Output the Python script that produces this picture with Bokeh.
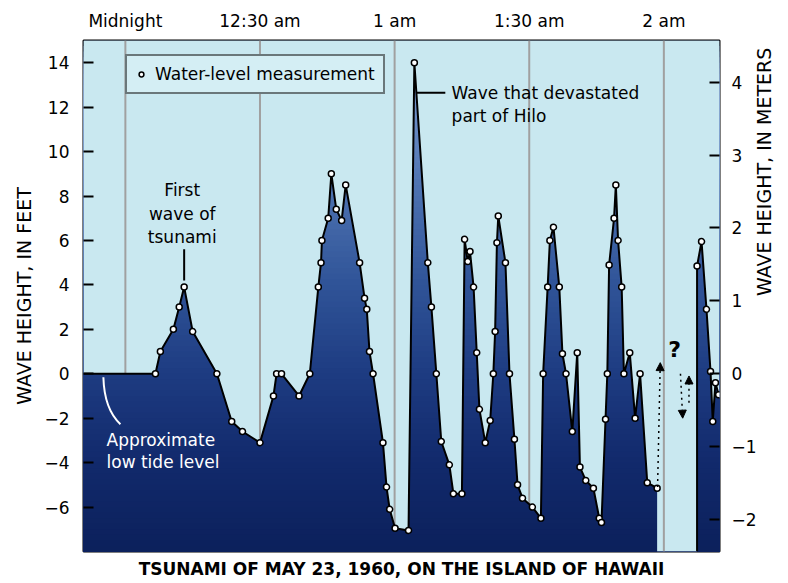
import numpy as np
from bokeh.plotting import figure
from bokeh.models import (Range1d, LinearAxis, FixedTicker, Label, Legend, LegendItem,
                          Arrow, NormalHead, Title)
from bokeh.embed import file_html
from bokeh.resources import INLINE

# ---------------- data (minutes after midnight, wave height in feet) ----------------
minutes_1 = [6.7, 7.8, 10.7, 12.0, 13.1, 15.0, 20.4, 23.7, 26.1, 30.0,
             33.0, 33.7, 34.8, 38.7, 41.1, 43.0, 43.6, 43.8, 45.2, 45.9,
             47.0, 48.2, 49.1, 52.2, 53.3, 53.8, 54.4, 55.2, 57.4, 58.2,
             58.9, 60.1, 63.1, 64.4, 67.4, 68.2, 69.3, 70.4, 72.2, 73.1,
             75.0, 75.6, 76.3, 76.8, 77.6, 78.3, 78.9, 80.2, 81.3, 82.0,
             82.4, 82.8, 83.1, 84.7, 85.6, 86.7, 87.4, 88.5, 90.7, 92.6,
             93.1, 94.1, 94.6, 95.4, 96.7, 97.4, 98.2, 99.6, 100.7, 101.3,
             102.6, 104.3, 105.6, 106.1, 107.0, 107.4, 107.8, 108.9, 109.3, 109.8,
             110.6, 111.1, 112.4, 113.6, 114.7, 116.3, 118.5]
feet_1 = [0, 1.0, 2.0, 3.0, 3.9, 1.9, 0, -2.15, -2.6, -3.1,
          -1.0, 0, 0, -1.0, 0, 3.9, 5.0, 6.0, 7.0, 9.0,
          7.4, 6.9, 8.5, 5.0, 3.4, 2.9, 1.0, 0, -3.1, -5.1,
          -6.1, -6.95, -7.05, 14.0, 5.0, 3.0, 0, -3.05, -4.1, -5.4,
          -5.4, 6.05, 5.05, 5.5, 3.9, 0.95, -1.6, -3.1, -2.1, 0,
          1.9, 5.9, 7.1, 5.0, 0, -2.95, -5.0, -5.6, -6.0, -6.5,
          0, 3.9, 6.0, 6.6, 3.9, 0.9, 0, -2.6, 0.95, -4.2,
          -4.8, -5.15, -6.5, -6.7, -2.05, 0, 4.9, 7.0, 8.5, 6.0,
          3.9, 0, 0.95, -2.0, 0, -4.9, -5.15]
minutes_2 = [127.4, 128.4, 129.5, 130.4, 130.9, 131.5, 132.2]
feet_2 = [4.85, 5.95, 2.9, 0.1, -2.15, -0.4, -0.95]

# uncertain (dotted) readings in the gap: x0, y0, x1, y1
gap_x0 = [118.6, 123.7, 125.6]
gap_y0 = [-5.1, 0.0, -1.3]
gap_x1 = [119.2, 124.2, 125.6]
gap_y1 = [0.5, -2.0, -0.1]

time_ticks = [0, 30, 60, 90, 120]
time_labels = ["Midnight", "12:30 am", "1 am", "1:30 am", "2 am"]
feet_ticks = [-6, -4, -2, 0, 2, 4, 6, 8, 10, 12, 14]
meter_ticks = [-2, -1, 0, 1, 2, 3, 4]
FT_TO_M = 0.3048

# ---------------- styling ----------------
FONT = "DejaVu Sans"
LIGHT = "#c9e8f0"
x_lo, x_hi = -9.33, 132.4
y_lo, y_hi = -8, 15

p = figure(width=788, height=583, output_backend="svg", toolbar_location=None,
           x_range=Range1d(x_lo, x_hi), y_range=Range1d(y_lo, y_hi),
           x_axis_location="above",
           min_border_left=83, min_border_right=67, min_border_top=40, min_border_bottom=30,
           background_fill_color=LIGHT, border_fill_color="white",
           outline_line_color="black", outline_line_width=2)
p.xgrid.visible = False
p.ygrid.visible = False

# gradient under the curve: nested bands (tallest first), later covered above the curve
grad_ft = [-8, -4, 0, 4, 8, 12, 15]
grad_rgb = np.array([(12, 33, 92), (18, 42, 108), (30, 60, 130), (48, 84, 152),
                     (75, 112, 175), (110, 145, 200), (135, 165, 215)], dtype=float)
edges = np.linspace(y_lo, y_hi, 93)
tops = edges[1:][::-1]
cols = []
for t in tops:
    m = t - 0.125
    r, g, b = (np.interp(m, grad_ft, grad_rgb[:, k]) for k in range(3))
    cols.append("#%02x%02x%02x" % (int(r), int(g), int(b)))
p.quad(left=x_lo, right=x_hi, bottom=y_lo, top=tops, fill_color=cols, line_color=None)

# light-blue region above the curve (including the gap without record)
bx = [x_lo, x_lo] + minutes_1 + [minutes_1[-1], minutes_2[0]] + minutes_2 + [x_hi, x_hi]
by = [y_hi, 0] + feet_1 + [y_lo, y_lo] + feet_2 + [feet_2[-1], y_hi]
p.patch(bx, by, fill_color=LIGHT, line_color=None)

# vertical grid lines, visible only above the curve
ix = [x_lo] + minutes_1 + [minutes_1[-1], minutes_2[0]] + minutes_2 + [x_hi]
iy = [0] + feet_1 + [y_lo, y_lo] + feet_2 + [feet_2[-1]]
grid_bottom = [float(np.interp(t, ix, iy)) for t in time_ticks]
p.segment(x0=time_ticks, y0=y_hi, x1=time_ticks, y1=grid_bottom,
          line_color="#a0a0a0", line_width=2)

# the record
p.line([x_lo] + minutes_1, [0] + feet_1, line_color="black", line_width=2)
p.line([minutes_2[0]] + minutes_2 + [x_hi], [y_lo] + feet_2 + [feet_2[-1]],
       line_color="black", line_width=2)
pts = p.scatter(minutes_1 + minutes_2, feet_1 + feet_2, size=6, fill_color="white",
                line_color="black", line_width=1.5)

for a, b, c, d in zip(gap_x0, gap_y0, gap_x1, gap_y1):
    p.add_layout(Arrow(x_start=a, y_start=b, x_end=c, y_end=d, line_dash="dotted",
                       line_width=1.5, line_color="black",
                       end=NormalHead(size=8, fill_color="black", line_color="black")))

# axes
ax = p.xaxis[0]
ax.ticker = FixedTicker(ticks=time_ticks)
ax.major_label_overrides = dict(zip(time_ticks, time_labels))
ax.major_tick_line_color = None
ax.minor_tick_line_color = None
ax.axis_line_color = None
ax.major_label_standoff = 4
ax.major_label_text_font = FONT
ax.major_label_text_font_size = "17px"
ax.major_label_text_color = "black"

ly = p.yaxis[0]
ly.ticker = FixedTicker(ticks=feet_ticks)
ly.axis_label = "WAVE HEIGHT, IN FEET"

p.extra_y_ranges = {"m": Range1d(y_lo * FT_TO_M, y_hi * FT_TO_M)}
ry = LinearAxis(y_range_name="m", ticker=FixedTicker(ticks=meter_ticks),
                axis_label="WAVE HEIGHT, IN METERS")
p.add_layout(ry, "right")
for a in (ly, ry):
    a.major_tick_in = 10
    a.major_tick_out = 0
    a.major_tick_line_width = 2
    a.major_tick_line_color = "black"
    a.minor_tick_line_color = None
    a.axis_line_color = None
    a.major_label_text_font = FONT
    a.major_label_text_font_size = "17px"
    a.major_label_text_color = "black"
    a.axis_label_text_font = FONT
    a.axis_label_text_font_size = "19px"
    a.axis_label_text_font_style = "normal"
    a.axis_label_text_color = "black"
ly.major_label_standoff = 14
ly.axis_label_standoff = 6
ry.major_label_standoff = 12
ry.axis_label_standoff = 4
try:
    ry.axis_label_orientation = np.pi / 2
except Exception:
    pass

p.add_layout(Title(text="TSUNAMI OF MAY 23, 1960, ON THE ISLAND OF HAWAII",
                   align="center", text_font=FONT, text_font_size="17px",
                   text_font_style="bold", text_color="black", standoff=10), "below")

# legend
legend = Legend(items=[LegendItem(label="Water-level measurement", renderers=[pts])],
                location=(42, 457), padding=8, glyph_width=12, glyph_height=20,
                label_standoff=8, label_text_font=FONT, label_text_font_size="17px",
                label_text_color="black",
                border_line_color="black", border_line_width=2,
                background_fill_color="#d4eef4", background_fill_alpha=1, margin=0)
p.add_layout(legend)

# annotations
def note(x, y, text, align="center", color="black", size="17px", style="normal"):
    p.add_layout(Label(x=x, y=y, text=text, text_align=align, text_baseline="middle",
                       text_font=FONT, text_font_size=size, text_font_style=style,
                       text_color=color))

note(12.67, 8.27, "First")
note(12.67, 7.2, "wave of")
note(12.67, 6.16, "tsunami")
peak1 = feet_1.index(max(feet_1[:10]))
p.segment(x0=[minutes_1[peak1]], y0=[feet_1[peak1] + 0.3], x1=[minutes_1[peak1]], y1=[5.6],
          line_color="black", line_width=2)

p.segment(x0=[64.9], y0=[12.65], x1=[71.3], y1=[12.65], line_color="black", line_width=2)
note(72.7, 12.65, "Wave that devastated", align="left")
note(72.7, 11.6, "part of Hilo", align="left")

note(-4.2, -2.96, "Approximate", align="left", color="white")
note(-4.2, -3.99, "low tide level", align="left", color="white")
p.quadratic(x0=[-4.9], y0=[-0.16], x1=[-1.1], y1=[-2.27], cx=[-4.7], cy=[-1.6],
            line_color="white", line_width=2)

note(122.4, 1.1, "?", size="22px", style="bold")

open("out.html", "w").write(file_html(p, INLINE))
